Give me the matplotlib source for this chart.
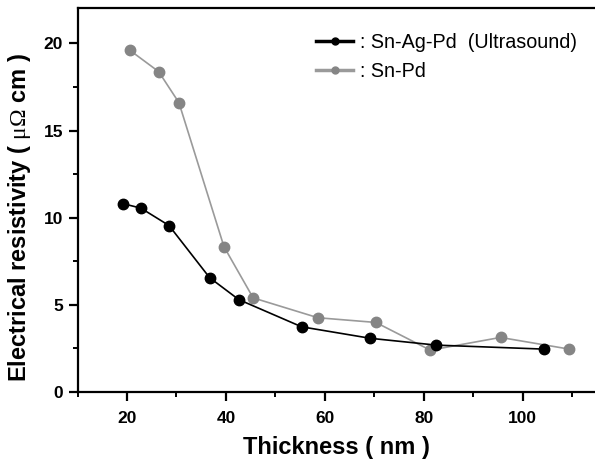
import matplotlib
matplotlib.use("Agg")
import matplotlib.pyplot as plt
from matplotlib.lines import Line2D
from matplotlib.ticker import MultipleLocator

plt.rcParams['font.family'] = ['Liberation Sans', 'DejaVu Sans']
plt.rcParams['mathtext.fontset'] = 'custom'
plt.rcParams['mathtext.rm'] = 'Liberation Serif'

# Sn-Ag-Pd (Ultrasound)
thick_agpd = [19.25, 22.8, 28.5, 36.7, 42.6, 55.3, 69.2, 82.5, 104.3]
res_agpd = [10.8, 10.55, 9.55, 6.56, 5.3, 3.74, 3.08, 2.69, 2.46]

# Sn-Pd
thick_pd = [20.6, 26.4, 30.5, 39.6, 45.5, 58.6, 70.3, 81.3, 95.5, 109.4]
res_pd = [19.6, 18.38, 16.6, 8.34, 5.4, 4.26, 3.99, 2.4, 3.13, 2.46]

labels = [": Sn-Ag-Pd  (Ultrasound)", ": Sn-Pd"]

black = "#000000"
grey_line = "#9a9a9a"
grey_mark = "#858585"

fig = plt.figure(figsize=(5.95, 4.61), dpi=100)
ax = fig.add_axes([77.5 / 595, 69 / 461, 1 - 77.5 / 595, (392 - 8.5) / 461])

ax.plot(thick_pd, res_pd, color=grey_line, lw=1.2, zorder=2)
ax.plot(thick_pd, res_pd, ls="none", marker="o", ms=7.5, color=grey_mark, zorder=3)
ax.plot(thick_agpd, res_agpd, color=black, lw=1.2, zorder=4)
ax.plot(thick_agpd, res_agpd, ls="none", marker="o", ms=7.5, color=black, zorder=5)

ax.set_xlim(10, 114.6)
ax.set_ylim(0, 22)
ax.xaxis.set_major_locator(MultipleLocator(20))
ax.xaxis.set_minor_locator(MultipleLocator(10))
ax.yaxis.set_major_locator(MultipleLocator(5))
ax.yaxis.set_minor_locator(MultipleLocator(2.5))

ax.spines['right'].set_visible(False)
for s in ['left', 'bottom', 'top']:
    ax.spines[s].set_linewidth(1.6)
ax.tick_params(which='major', direction='out', length=6.5, width=1.6, labelsize=12.5)
ax.tick_params(axis='y', which='major', pad=4)
ax.tick_params(axis='x', which='major', pad=7)
ax.tick_params(which='minor', direction='out', length=3.5, width=1.4)
ax.tick_params(axis='x', which='both', top=False)
for lab in ax.get_xticklabels() + ax.get_yticklabels():
    lab.set_fontweight('bold')

ax.set_xlabel("Thickness ( nm )", fontsize=17, fontweight='bold')
ax.set_ylabel(r"Electrical resistivity ( $\mathrm{\mu\Omega}$ cm )", fontsize=17,
              fontweight='bold')
ax.xaxis.set_label_coords(0.5005, -0.115)
ax.yaxis.set_label_coords(-0.086, 0.456)

handles = [Line2D([], [], color=black, lw=2.5, marker="o", ms=5),
           Line2D([], [], color=grey_line, lw=2.5, marker="o", ms=5, mfc=grey_mark, mec=grey_mark)]
ax.legend(handles, labels, loc='upper left', bbox_to_anchor=(316 / 595, 1 - 33 / 461),
          bbox_transform=fig.transFigure, frameon=False, fontsize=14.2, borderpad=0,
          borderaxespad=0, handlelength=1.9, handletextpad=0.35, labelspacing=0.5)

fig.savefig("out.png", dpi=100)
